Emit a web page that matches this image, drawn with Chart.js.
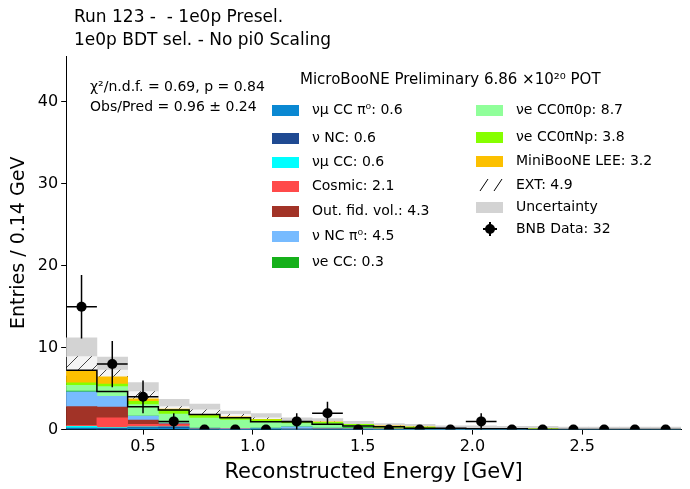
<!DOCTYPE html>
<html>
<head>
<meta charset="utf-8">
<script src="https://cdn.jsdelivr.net/npm/chart.js@4/dist/chart.umd.min.js"></script>
<style>body{margin:0;background:#fff}#w{width:690px;height:489px}</style>
</head>
<body>
<div id="w"><canvas id="c"></canvas></div>
<script>
// bin low edges (GeV), width 0.14
var binLow = [0.15,0.29,0.43,0.57,0.71,0.85,0.99,1.13,1.27,1.41,1.55,1.69,1.83,1.97,2.11,2.25,2.39,2.53,2.67,2.81];
var binHigh = 2.95;
var numuCCpi0 = [0.1,0.05,0.15,0.2,0,0,0.05,0,0,0,0,0,0,0,0,0,0,0,0,0];
var nuNC      = [0.1,0.1,0.1,0.1,0.05,0,0,0.05,0.05,0,0,0,0,0,0,0,0,0,0,0];
var numuCC    = [0.2,0.1,0.1,0.05,0,0,0.05,0,0,0.05,0,0,0,0,0,0,0,0,0,0];
var cosmic    = [0.1,1.2,0.3,0.25,0.05,0.05,0,0,0.05,0,0.05,0,0,0,0,0,0,0,0,0];
var outFV     = [2.3,1.3,0.5,0.1,0,0,0,0,0,0.05,0,0,0,0,0,0,0,0,0,0];
var ncPi0     = [1.8,1.3,0.5,0.1,0.1,0.1,0.1,0.3,0.1,0.05,0,0,0,0,0,0,0,0,0,0];
var nueCC     = [0.1,0,0,0,0,0,0,0,0,0.1,0.05,0,0,0,0,0,0,0,0,0];
var nue0p     = [0.7,1.2,1.4,1.1,1.2,1.0,0.7,0.4,0.5,0.2,0.1,0.1,0.05,0.05,0,0,0,0,0,0];
var nueNp     = [0.3,0.3,0.4,0.5,0.3,0.3,0.3,0.2,0.2,0.2,0.2,0.2,0.1,0.1,0.1,0.1,0,0,0,0];
var lee       = [1.4,0.9,0.3,0.1,0.1,0.1,0.05,0,0.05,0,0.05,0.05,0,0,0,0,0,0,0,0];
var ext       = [1.8,0.8,0.9,0.3,0.6,0.3,0.2,0,0,0,0,0,0,0,0,0,0,0,0,0];
var uncert    = [2.3,1.6,1.1,0.9,0.7,0.4,0.5,0.5,0.4,0.35,0.3,0.3,0.3,0.3,0.3,0.3,0.3,0.3,0.3,0.3];
var dataCounts = [15,8,4,1,0,0,0,1,2,0,0,0,0,1,0,0,0,0,0,0];

var hatch = (function(){
  var p = document.createElement('canvas'); p.width = 14; p.height = 14;
  var g = p.getContext('2d');
  g.fillStyle = '#f4f4f4'; g.fillRect(0,0,14,14);
  g.strokeStyle = '#333'; g.lineWidth = 0.9;
  g.beginPath(); g.moveTo(0,14); g.lineTo(14,0); g.stroke();
  return document.getElementById('c').getContext('2d').createPattern(p,'repeat');
})();

var comps = [
  ['νμ CC π⁰: 0.6', numuCCpi0, '#0a88d2'],
  ['ν NC: 0.6', nuNC, '#1f4a92'],
  ['νμ CC: 0.6', numuCC, '#00ffff'],
  ['Cosmic: 2.1', cosmic, '#ff4a4a'],
  ['Out. fid. vol.: 4.3', outFV, '#a23327'],
  ['ν NC π⁰: 4.5', ncPi0, '#77bbff'],
  ['νe CC: 0.3', nueCC, '#15b01a'],
  ['νe CC0π0p: 8.7', nue0p, '#90ff9a'],
  ['νe CC0πNp: 3.8', nueNp, '#86ff00'],
  ['MiniBooNE LEE: 3.2', lee, '#fcc000'],
  ['EXT: 4.9', ext, hatch]
];
var labels = binLow.map(function(v){ return v.toFixed(2); });
var totals = binLow.map(function(_, i){ return comps.reduce(function(s, c){ return s + c[1][i]; }, 0); });

var datasets = comps.map(function(c){
  return { type:'bar', label:c[0], data:c[1], backgroundColor:c[2], xAxisID:'xc', yAxisID:'y', grouped:false,
    barPercentage:1, categoryPercentage:1, borderWidth:0, order:5 };
});
datasets.push({ type:'bar', label:'Uncertainty', xAxisID:'xc', yAxisID:'y2', order:10, grouped:false,
  data: totals.map(function(t, i){ return [Math.max(0, t - uncert[i]), t + uncert[i]]; }),
  backgroundColor:'#d3d3d3', barPercentage:1, categoryPercentage:1, borderWidth:0 });
var stepPts = binLow.map(function(x, i){ return {x:x, y:totals[i]}; });
stepPts.push({x:binHigh, y:totals[totals.length-1]});
datasets.push({ type:'line', label:'total', data:stepPts, xAxisID:'x', yAxisID:'y', stepped:'after',
  borderColor:'#000', borderWidth:1.5, pointRadius:0, fill:false, order:1 });
datasets.push({ type:'scatter', label:'BNB Data: 32', xAxisID:'x', yAxisID:'y', order:0,
  data: binLow.map(function(x, i){ return {x:x + 0.07, y:dataCounts[i]}; }),
  backgroundColor:'#000', pointRadius:5, pointHoverRadius:5 });

var decor = {
  id:'decor',
  afterDatasetsDraw: function(chart){
    var g = chart.ctx, xs = chart.scales.x, ys = chart.scales.y;
    g.save(); g.strokeStyle = '#000'; g.lineWidth = 1.5;
    binLow.forEach(function(x, i){
      var n = dataCounts[i]; if (!n) return;
      var cx = xs.getPixelForValue(x + 0.07), cy = ys.getPixelForValue(n), e = Math.sqrt(n);
      g.beginPath();
      g.moveTo(xs.getPixelForValue(x), cy); g.lineTo(xs.getPixelForValue(x + 0.14), cy);
      g.moveTo(cx, ys.getPixelForValue(n + e)); g.lineTo(cx, ys.getPixelForValue(n - e));
      g.stroke();
    });
    g.restore();
  },
  afterDraw: function(chart){
    var g = chart.ctx; g.save();
    g.fillStyle = '#000'; g.textBaseline = 'middle';
    g.font = '17px "DejaVu Sans"';
    g.fillText('Run 123 -  - 1e0p Presel.', 74, 18);
    g.fillText('1e0p BDT sel. - No pi0 Scaling', 74, 41);
    g.font = '14px "DejaVu Sans"';
    g.fillText('χ²/n.d.f. = 0.69, p = 0.84', 90, 87);
    g.fillText('Obs/Pred = 0.96 ± 0.24', 90, 107);
    g.font = '15px "DejaVu Sans"';
    g.fillText('MicroBooNE Preliminary 6.86 ×10²⁰ POT', 300, 80);
    g.font = '14px "DejaVu Sans"';
    var left = [110,138,162,186,211,236,262], right = [110,137,161,185,207,229];
    comps.forEach(function(c, i){
      var col = i < 7 ? 0 : 1, y = col ? right[i-7] : left[i];
      var sx = col ? 476 : 272, tx = col ? 516 : 312;
      if (c[2] === hatch) {
        g.strokeStyle = '#000'; g.lineWidth = 1;
        g.beginPath(); g.moveTo(sx+4, y+6); g.lineTo(sx+12, y-6); g.moveTo(sx+18, y+6); g.lineTo(sx+26, y-6); g.stroke();
      } else { g.fillStyle = c[2]; g.fillRect(sx, y-5, 27, 11); }
      g.fillStyle = '#000'; g.fillText(c[0], tx, y);
    });
    g.fillStyle = '#d3d3d3'; g.fillRect(476, right[4]-5, 27, 11);
    g.fillStyle = '#000'; g.fillText('Uncertainty', 516, right[4]);
    var by = right[5];
    g.beginPath(); g.arc(490, by, 5, 0, 7); g.fill();
    g.fillRect(489, by-7, 2, 14); g.fillRect(483, by-1, 14, 2);
    g.fillText('BNB Data: 32', 516, by);
    g.restore();
  }
};

var axGrid = { drawOnChartArea:false, drawTicks:true, tickLength:5, color:'#000' };
new Chart(document.getElementById('c'), {
  data: { labels: labels, datasets: datasets },
  plugins: [decor],
  options: {
    responsive:true, maintainAspectRatio:false, animation:false,
    layout: { padding: { top:56, right:9, left:4, bottom:0 } },
    plugins: { legend:{display:false}, tooltip:{enabled:false} },
    scales: {
      xc: { type:'category', stacked:true, display:false, offset:true },
      x: { type:'linear', min:0.15, max:2.95, grid:axGrid,
        border:{color:'#000'},
        afterBuildTicks: function(s){ s.ticks = [0.5,1,1.5,2,2.5].map(function(v){ return {value:v}; }); },
        ticks:{ color:'#000', font:{size:16, family:'DejaVu Sans'}, callback:function(v){ return v.toFixed(1); } },
        title:{ display:true, text:'Reconstructed Energy [GeV]', color:'#000', font:{size:21, family:'DejaVu Sans'}, padding:{top:0} } },
      y: { stacked:true, min:0, max:45.6, grid:axGrid, border:{color:'#000'},
        afterBuildTicks: function(s){ s.ticks = [0,10,20,30,40].map(function(v){ return {value:v}; }); },
        ticks:{ color:'#000', font:{size:16, family:'DejaVu Sans'} },
        title:{ display:true, text:'Entries / 0.14 GeV', color:'#000', font:{size:19, family:'DejaVu Sans'} } },
      y2: { min:0, max:45.6, display:false }
    }
  }
});
</script>
</body>
</html>
